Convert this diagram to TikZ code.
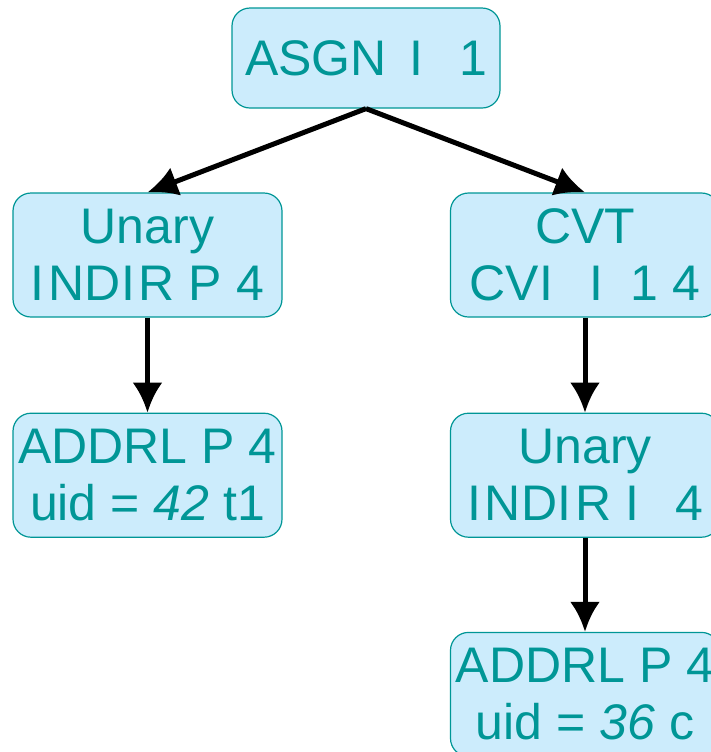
\documentclass[tikz,border=0pt]{standalone}
\usepackage{fontspec}
\setmainfont{Liberation Sans}
\usetikzlibrary{positioning,arrows.meta}
\definecolor{opfill}{RGB}{204,236,252}
\definecolor{optext}{RGB}{0,150,150}
\tikzset{
opbox/.style={
  rectangle,
  rounded corners=9pt,
  draw=optext,
  line width=0.6pt,
  fill=opfill,
  text=optext,
  font=\fontsize{25pt}{28.5pt}\selectfont,
  align=center,
  inner sep=1pt,
  minimum width=134.5pt,
  minimum height=62pt
  },
edge/.style={
  ->,
  line width=2.5pt,
  black
  }
}
\newcommand{\gapI}{I\kern2pt}

\begin{document}
\begin{tikzpicture}[x=0.5pt,y=-0.5pt,
  >={Latex[length=15pt,width=15pt]}]
\useasboundingbox (0,0) rectangle (711,752);
\node[opbox,minimum height=50pt,minimum width=134pt] (asgn) at (366,58) {ASGN\, I\;\, 1};
\node[opbox] (unaryP) at (147.5,255) {Unary\\\gapI ND\gapI R P 4};
\node[opbox] (cvt) at (585,255) {CVT\\CVI\;\, I\; 1 4};
\node[opbox,below=47.5pt of unaryP] (addrT) {ADDRL P 4\\uid = \textit{42} t1};
\node[opbox,below=47.5pt of cvt] (unaryI) {Unary\\\gapI ND\gapI R I\;\, 4};
\node[opbox,below=47pt of unaryI] (addrC) {ADDRL P 4\\uid = \textit{36} c};
% edges
\draw[edge] (asgn.south) -- (unaryP.north);
\draw[edge] (asgn.south) -- (cvt.north);
\draw[edge] (unaryP) -- (addrT);
\draw[edge] (cvt) -- (unaryI);
\draw[edge] (unaryI) -- (addrC);
\end{tikzpicture}
\end{document}
